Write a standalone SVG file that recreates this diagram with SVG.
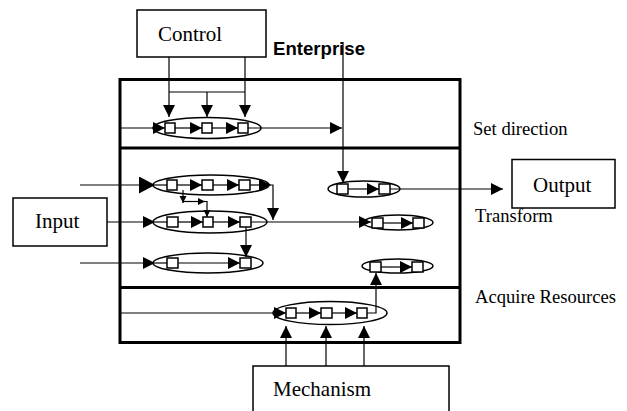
<svg xmlns="http://www.w3.org/2000/svg" width="627" height="411" viewBox="0 0 627 411">
  <style>
    .box { fill: #fff; stroke: #000; stroke-width: 1.5; }
    .frame { fill: none; stroke: #000; stroke-width: 3; }
    .act { fill: none; stroke: #000; stroke-width: 1.5; }
    .step { fill: #fff; stroke: #000; stroke-width: 1.5; }
    .ln { fill: none; stroke: #000; stroke-width: 1.2; }
    .lbl { font-family: "Liberation Serif", "Times New Roman", serif; font-size: 21px; fill: #000; }
    .side { font-family: "Liberation Serif", "Times New Roman", serif; font-size: 18.6px; fill: #000; }
    .bold { font-family: "Liberation Sans", Arial, sans-serif; font-size: 18.6px; font-weight: bold; fill: #000; }
  </style>
  <defs>
    <marker id="ah" markerUnits="userSpaceOnUse" markerWidth="13" markerHeight="12" refX="12" refY="6" orient="auto">
      <path d="M0,0 L12,6 L0,12 z" fill="#000"/>
    </marker>
    <marker id="ahL" markerUnits="userSpaceOnUse" markerWidth="17" markerHeight="17" refX="16" refY="8.5" orient="auto">
      <path d="M0,0 L16,8.5 L0,17 z" fill="#000"/>
    </marker>
    <marker id="ahS" markerUnits="userSpaceOnUse" markerWidth="8" markerHeight="8" refX="7" refY="3.5" orient="auto">
      <path d="M0,0 L7,3.5 L0,7 z" fill="#000"/>
    </marker>
  </defs>

  <!-- enterprise frame with its three layers -->
  <g id="enterprise">
    <rect class="frame" x="120" y="79.5" width="340" height="263"/>
    <line class="frame" x1="120" y1="148" x2="460" y2="148"/>
    <line class="frame" x1="120" y1="287.5" x2="460" y2="287.5"/>
    <text class="bold" x="273" y="55">Enterprise</text>
    <text class="side" x="473" y="135">Set direction</text>
    <text class="side" x="475" y="222">Transform</text>
    <text class="side" x="475" y="303">Acquire Resources</text>
  </g>

  <g id="control">
    <rect class="box" x="137" y="10" width="129" height="47"/>
    <text class="lbl" x="158" y="41">Control</text>
  </g>
  <g id="input">
    <rect class="box" x="13" y="198" width="94" height="48"/>
    <text class="lbl" x="35" y="228">Input</text>
  </g>
  <g id="output">
    <rect class="box" x="512" y="159.5" width="103" height="48.5"/>
    <text class="lbl" x="533" y="192">Output</text>
  </g>
  <g id="mechanism">
    <rect class="box" x="253" y="366" width="196" height="55"/>
    <text class="lbl" x="273" y="396">Mechanism</text>
  </g>

  <!-- activity chains -->
  <g id="act-direction">
    <ellipse class="act" cx="207" cy="128" rx="54" ry="10.5"/>
  </g>
  <g id="act-t1">
    <ellipse class="act" cx="211" cy="185" rx="58" ry="10"/>
  </g>
  <g id="act-t2">
    <ellipse class="act" cx="210" cy="222" rx="57" ry="11"/>
  </g>
  <g id="act-t3">
    <ellipse class="act" cx="208" cy="263" rx="55" ry="10"/>
  </g>
  <g id="act-t4">
    <ellipse class="act" cx="364" cy="189" rx="36" ry="8"/>
  </g>
  <g id="act-t5">
    <ellipse class="act" cx="398" cy="222.5" rx="35" ry="7.5"/>
  </g>
  <g id="act-t6">
    <ellipse class="act" cx="397.5" cy="266" rx="35.5" ry="7"/>
  </g>
  <g id="act-resources">
    <ellipse class="act" cx="330" cy="313" rx="57" ry="11.5"/>
  </g>

  <g id="connectors">
    <!-- control feeds -->
    <path class="ln" d="M169,57 V117" marker-end="url(#ah)"/>
    <path class="ln" d="M245,57 V117" marker-end="url(#ah)"/>
    <path class="ln" d="M169,92 H245"/>
    <path class="ln" d="M207,92 V117" marker-end="url(#ah)"/>
    <!-- set direction chain -->
    <path class="ln" d="M120,128 H165" marker-end="url(#ah)"/>
    <path class="ln" d="M175,128 H202" marker-end="url(#ah)"/>
    <path class="ln" d="M212,128 H238" marker-end="url(#ah)"/>
    <path class="ln" d="M248,128 H342" marker-end="url(#ah)"/>
    <path class="ln" d="M343,42 V183" marker-end="url(#ah)"/>
    <!-- transform row 1 -->
    <path class="ln" d="M80,185 H155" marker-end="url(#ahL)"/>
    <path class="ln" d="M155,185 H167"/>
    <path class="ln" d="M177,185 H202" marker-end="url(#ah)"/>
    <path class="ln" d="M213,185 H239" marker-end="url(#ah)"/>
    <path class="ln" d="M250,185 H271" marker-end="url(#ah)"/>
    <path class="ln" d="M271,185 H273 V220" marker-end="url(#ah)"/>
    <path class="ln" d="M183,190 V203" marker-end="url(#ahS)"/>
    <path class="ln" d="M183,201.5 H205" marker-end="url(#ahS)"/>
    <path class="ln" d="M205,201.5 H207 V217" marker-end="url(#ahS)"/>
    <!-- transform row 2 -->
    <path class="ln" d="M107,222 H155" marker-end="url(#ah)"/>
    <path class="ln" d="M155,222 H167"/>
    <path class="ln" d="M178,222 H203" marker-end="url(#ah)"/>
    <path class="ln" d="M213,222 H240" marker-end="url(#ah)"/>
    <path class="ln" d="M251,222 H371" marker-end="url(#ah)"/>
    <path class="ln" d="M246,227 V257" marker-end="url(#ah)"/>
    <!-- transform row 3 -->
    <path class="ln" d="M80,263 H155" marker-end="url(#ah)"/>
    <path class="ln" d="M155,263 H167"/>
    <path class="ln" d="M178,263 H240" marker-end="url(#ah)"/>
    <!-- right-hand chains -->
    <path class="ln" d="M348,189 H379" marker-end="url(#ah)"/>
    <path class="ln" d="M390,189 H503" marker-end="url(#ah)"/>
    <path class="ln" d="M383,223 H413" marker-end="url(#ah)"/>
    <path class="ln" d="M381,267 H412" marker-end="url(#ah)"/>
    <!-- acquire resources chain -->
    <path class="ln" d="M120,313 H286" marker-end="url(#ah)"/>
    <path class="ln" d="M296,313 H321" marker-end="url(#ah)"/>
    <path class="ln" d="M332,313 H357" marker-end="url(#ah)"/>
    <path class="ln" d="M367,313 H376 V273" marker-end="url(#ah)"/>
    <!-- mechanism feeds -->
    <path class="ln" d="M286,366 V326" marker-end="url(#ah)"/>
    <path class="ln" d="M326,366 V326" marker-end="url(#ah)"/>
    <path class="ln" d="M364,366 V326" marker-end="url(#ah)"/>
  </g>

  <!-- process steps drawn over the connectors -->
  <g id="steps">
    <rect class="step" x="165" y="123" width="10" height="10"/>
    <rect class="step" x="202" y="123" width="10" height="10"/>
    <rect class="step" x="238" y="123" width="10" height="10"/>

    <rect class="step" x="167" y="180" width="10" height="10"/>
    <rect class="step" x="202" y="180" width="11" height="10"/>
    <rect class="step" x="239" y="180" width="11" height="10"/>

    <rect class="step" x="167" y="217" width="11" height="10"/>
    <rect class="step" x="203" y="217" width="10" height="10"/>
    <rect class="step" x="240" y="217" width="11" height="10"/>

    <rect class="step" x="167" y="258" width="11" height="10"/>
    <rect class="step" x="240" y="258" width="11" height="10"/>

    <rect class="step" x="337" y="184" width="11" height="10"/>
    <rect class="step" x="379" y="184" width="11" height="10"/>

    <rect class="step" x="372" y="218" width="11" height="10"/>
    <rect class="step" x="413" y="218" width="11" height="10"/>

    <rect class="step" x="370" y="262" width="11" height="10"/>
    <rect class="step" x="412" y="262" width="11" height="10"/>

    <rect class="step" x="286" y="308" width="10" height="10"/>
    <rect class="step" x="321" y="308" width="11" height="10"/>
    <rect class="step" x="357" y="308" width="10" height="10"/>
  </g>
</svg>
